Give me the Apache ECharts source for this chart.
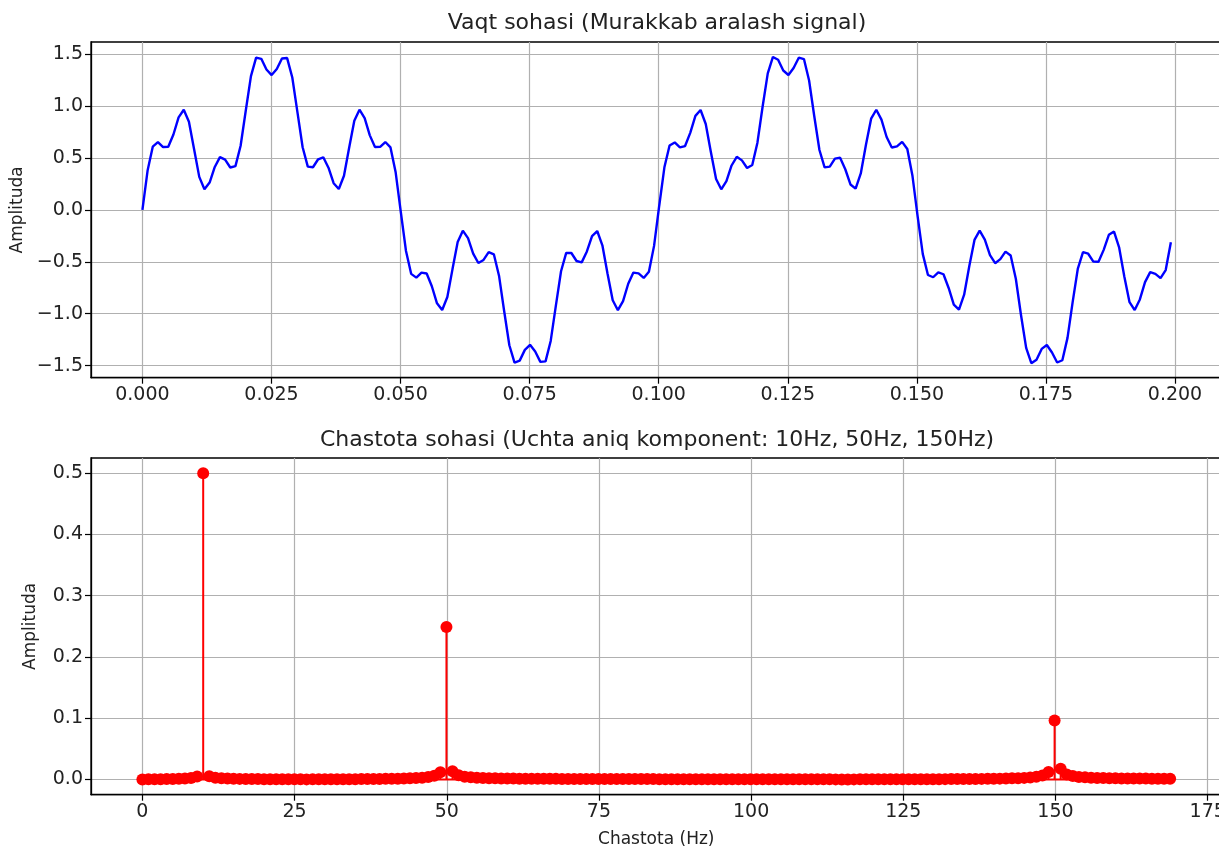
<!DOCTYPE html>
<html>
<head>
<meta charset="utf-8">
<title>Vaqt va chastota sohasi</title>
<script src="https://cdn.jsdelivr.net/npm/echarts@6/dist/echarts.min.js"></script>
<style>
  html, body { margin: 0; padding: 0; background: #fff; }
  #chart { width: 1219px; height: 847px; }
</style>
</head>
<body>
<div id="chart"></div>
<script>
// vaqt sohasi: birinchi 200 ta namuna (fs = 999 Hz)
const sampleRate = 999
const signal = [
  0, 0.3794, 0.6097, 0.6536, 0.6065, 0.6093, 0.7271, 0.8931, 0.9657, 0.8503,
  0.5848, 0.3188, 0.2002, 0.2644, 0.4146, 0.5096, 0.4852, 0.4090, 0.4225, 0.6189,
  0.9584, 1.2907, 1.4681, 1.4566, 1.3536, 1.3000, 1.3586, 1.4605, 1.4641, 1.2768,
  0.9401, 0.6048, 0.4178, 0.4119, 0.4887, 0.5076, 0.4073, 0.2579, 0.2015, 0.3295,
  0.5996, 0.8605, 0.9663, 0.8858, 0.7190, 0.6065, 0.6087, 0.6548, 0.6029, 0.3631,
  -0.0204, -0.3954, -0.6160, -0.6522, -0.6044, -0.6125, -0.7353, -0.9001, -0.9647, -0.8396,
  -0.5701, -0.3085, -0.1994, -0.2710, -0.4216, -0.5111, -0.4816, -0.4064, -0.4277, -0.6334,
  -0.9766, -1.3041, -1.4717, -1.4524, -1.3487, -1.3003, -1.3638, -1.4642, -1.4595, -1.2626,
  -0.9218, -0.5910, -0.4135, -0.4150, -0.4920, -0.5054, -0.3999, -0.2517, -0.2032, -0.3406,
  -0.6143, -0.8703, -0.9663, -0.8783, -0.7111, -0.6039, -0.6111, -0.6557, -0.5956, -0.3464,
  0.0408, 0.4109, 0.6218, 0.6506, 0.6025, 0.6160, 0.7436, 0.9069, 0.9632, 0.8286,
  0.5554, 0.2986, 0.1991, 0.2779, 0.4286, 0.5124, 0.4778, 0.4040, 0.4334, 0.6483,
  0.9948, 1.3171, 1.4747, 1.4480, 1.3440, 1.3010, 1.3690, 1.4677, 1.4544, 1.2480,
  0.9036, 0.5777, 0.4098, 0.4183, 0.4952, 0.5028, 0.3924, 0.2457, 0.2055, 0.3521,
  0.6290, 0.8797, 0.9658, 0.8705, 0.7033, 0.6017, 0.6136, 0.6564, 0.5878, 0.3293,
  -0.0612, -0.4260, -0.6271, -0.6487, -0.6007, -0.6198, -0.7521, -0.9135, -0.9612, -0.8172,
  -0.5408, -0.2890, -0.1993, -0.2851, -0.4353, -0.5133, -0.4739, -0.4018, -0.4395, -0.6635,
  -1.0129, -1.3296, -1.4773, -1.4433, -1.3394, -1.3019, -1.3743, -1.4707, -1.4488, -1.2330,
  -0.8855, -0.5648, -0.4065, -0.4219, -0.4983, -0.4999, -0.3847, -0.2400, -0.2082, -0.3638,
  -0.6436, -0.8886, -0.9649, -0.8625, -0.6957, -0.5998, -0.6162, -0.6568, -0.5795, -0.3118
]
const timeTicks = [0, 0.025, 0.05, 0.075, 0.1, 0.125, 0.15, 0.175, 0.2]
const signalTicks = [-1.5, -1, -0.5, 0, 0.5, 1, 1.5]

// chastota sohasi: 0..169-bin amplitudalari (bin kengligi 0.999 Hz)
const binWidth = 0.999
const spectrum = [
  0, 0.00011, 0.00023, 0.00036, 0.00052, 0.00072, 0.00100, 0.00144, 0.00230, 0.00479,
  0.49980, 0.00516, 0.00260, 0.00174, 0.00130, 0.00102, 0.00083, 0.00069, 0.00058, 0.00049,
  0.00041, 0.00034, 0.00028, 0.00022, 0.00017, 0.00012, 0.00007, 0.00002, 0.00003, 0.00008,
  0.00013, 0.00017, 0.00022, 0.00028, 0.00034, 0.00041, 0.00049, 0.00057, 0.00066, 0.00076,
  0.00089, 0.00103, 0.00121, 0.00144, 0.00175, 0.00216, 0.00278, 0.00379, 0.00580, 0.01159,
  0.24871, 0.01338, 0.00664, 0.00447, 0.00340, 0.00275, 0.00232, 0.00202, 0.00179, 0.00160,
  0.00145, 0.00133, 0.00123, 0.00115, 0.00107, 0.00100, 0.00095, 0.00089, 0.00085, 0.00081,
  0.00077, 0.00074, 0.00070, 0.00067, 0.00064, 0.00062, 0.00059, 0.00057, 0.00055, 0.00052,
  0.00050, 0.00049, 0.00047, 0.00045, 0.00044, 0.00042, 0.00040, 0.00039, 0.00037, 0.00036,
  0.00034, 0.00033, 0.00032, 0.00030, 0.00029, 0.00028, 0.00026, 0.00025, 0.00024, 0.00023,
  0.00021, 0.00020, 0.00019, 0.00018, 0.00016, 0.00015, 0.00014, 0.00013, 0.00011, 0.00010,
  0.00009, 0.00007, 0.00005, 0.00004, 0.00002, 0.00001, 0.00001, 0.00002, 0.00004, 0.00006,
  0.00008, 0.00010, 0.00012, 0.00014, 0.00016, 0.00019, 0.00022, 0.00024, 0.00028, 0.00031,
  0.00035, 0.00039, 0.00043, 0.00048, 0.00054, 0.00060, 0.00067, 0.00075, 0.00084, 0.00095,
  0.00108, 0.00124, 0.00144, 0.00168, 0.00201, 0.00247, 0.00316, 0.00427, 0.00640, 0.01225,
  0.09601, 0.01734, 0.00814, 0.00539, 0.00407, 0.00330, 0.00279, 0.00242, 0.00216, 0.00195,
  0.00177, 0.00163, 0.00152, 0.00142, 0.00134, 0.00127, 0.00121, 0.00115, 0.00111, 0.00105
]
const freqTicks = [0, 25, 50, 75, 100, 125, 150, 175]
const ampTicks = [0, 0.1, 0.2, 0.3, 0.4, 0.5]

const FONT = 'DejaVu Sans'
// matplotlib uslubidagi minus belgisi
const signed = (v, digits) => (v < 0 ? '\u2212' : '') + Math.abs(v).toFixed(digits)

const signalPoints = signal.map((v, i) => [i / sampleRate, v])
const spectrumPoints = spectrum.map((v, k) => [k * binWidth, v])
const lastFreq = spectrumPoints[spectrumPoints.length - 1][0]

function axisCommon(ticks, formatter) {
  return {
    type: 'value',
    axisLine: { show: true, onZero: false, lineStyle: { color: '#000', width: 1.3 } },
    axisTick: { show: true, customValues: ticks, length: 6, lineStyle: { color: '#000', width: 1.2 } },
    axisLabel: {
      customValues: ticks,
      formatter: formatter,
      color: '#222',
      fontFamily: FONT,
      fontSize: 19,
      margin: 8
    },
    splitLine: { show: true, lineStyle: { color: '#b0b0b0', width: 1.2 } }
  }
}

const chart = echarts.init(document.getElementById('chart'), null, { renderer: 'canvas' })

chart.setOption({
  backgroundColor: '#fff',
  animation: false,
  graphic: [
    {
      type: 'text', x: 657, y: 23,
      style: {
        text: 'Vaqt sohasi (Murakkab aralash signal)', fill: '#222',
        font: '22px "DejaVu Sans"', textAlign: 'center', textVerticalAlign: 'middle'
      }
    },
    {
      type: 'text', x: 657, y: 440,
      style: {
        text: 'Chastota sohasi (Uchta aniq komponent: 10Hz, 50Hz, 150Hz)', fill: '#222',
        font: '22px "DejaVu Sans"', textAlign: 'center', textVerticalAlign: 'middle'
      }
    }
  ],
  grid: [
    {
      left: 91, top: 42, width: 1131.3, height: 335.7, outerBoundsMode: 'none',
      show: true, borderColor: '#000', borderWidth: 1.3, backgroundColor: 'transparent'
    },
    {
      left: 91, top: 458, width: 1130.5, height: 336.7, outerBoundsMode: 'none',
      show: true, borderColor: '#000', borderWidth: 1.3, backgroundColor: 'transparent'
    }
  ],
  xAxis: [
    Object.assign(axisCommon(timeTicks, v => v.toFixed(3)), {
      gridIndex: 0, min: -0.00996, max: 0.20916
    }),
    Object.assign(axisCommon(freqTicks, v => String(v)), {
      gridIndex: 1, min: -8.44, max: 177.27,
      name: 'Chastota (Hz)', nameLocation: 'middle', nameGap: 36,
      nameTextStyle: { fontFamily: FONT, fontSize: 17, color: '#222' }
    })
  ],
  yAxis: [
    Object.assign(axisCommon(signalTicks, v => signed(v, 1)), {
      gridIndex: 0, min: -1.617, max: 1.619,
      name: 'Amplituda', nameLocation: 'middle', nameGap: 64, nameRotate: 90,
      nameTextStyle: { fontFamily: FONT, fontSize: 17, color: '#222' }
    }),
    Object.assign(axisCommon(ampTicks, v => v.toFixed(1)), {
      gridIndex: 1, min: -0.025, max: 0.5248,
      name: 'Amplituda', nameLocation: 'middle', nameGap: 52, nameRotate: 90,
      nameTextStyle: { fontFamily: FONT, fontSize: 17, color: '#222' }
    })
  ],
  series: [
    {
      type: 'line',
      xAxisIndex: 0, yAxisIndex: 0,
      data: signalPoints,
      showSymbol: false,
      symbol: 'none',
      lineStyle: { color: '#0000ff', width: 2.4 },
      z: 3
    },
    {
      // stem chiziqlari
      type: 'bar',
      xAxisIndex: 1, yAxisIndex: 1,
      data: spectrumPoints,
      barWidth: 2,
      itemStyle: { color: '#ff0000' },
      z: 2
    },
    {
      // bazaviy chiziq
      type: 'line',
      xAxisIndex: 1, yAxisIndex: 1,
      data: [[0, 0], [lastFreq, 0]],
      symbol: 'none',
      lineStyle: { color: '#ff0000', width: 2 },
      z: 3
    },
    {
      type: 'scatter',
      xAxisIndex: 1, yAxisIndex: 1,
      data: spectrumPoints,
      symbol: 'circle',
      symbolSize: 12,
      itemStyle: { color: '#ff0000', opacity: 1 },
      z: 4
    }
  ]
})
</script>
</body>
</html>
